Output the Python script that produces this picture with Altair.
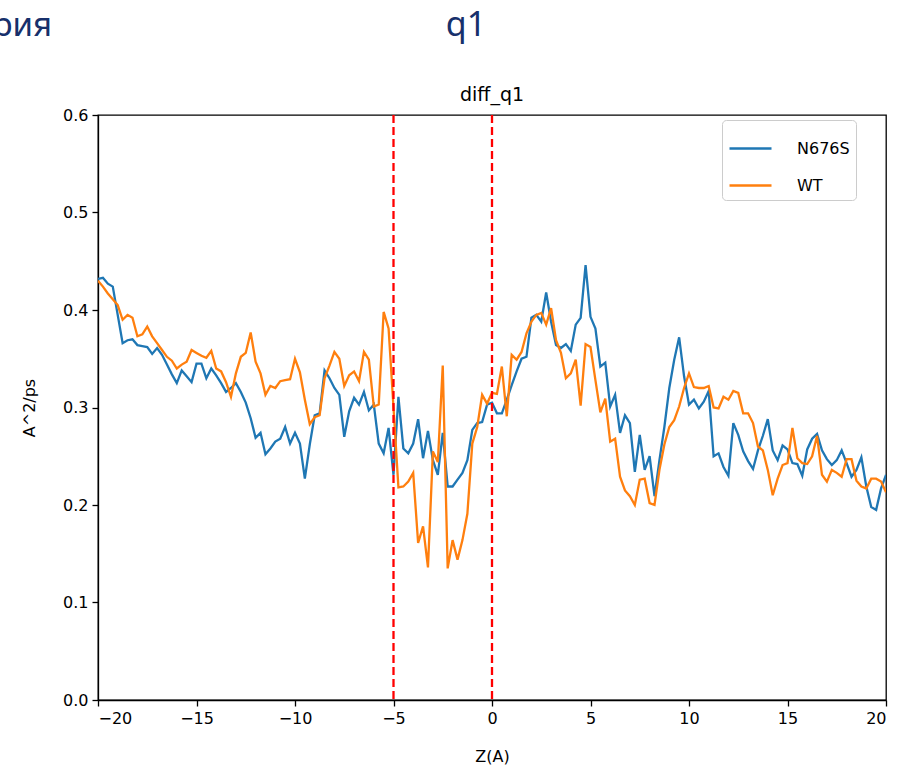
import altair as alt
import pandas as pd

# Diffusion profile along the membrane normal, sampled every 0.25 A from -20 A
z_start = -20.0
z_step = 0.25

n676s = [
    0.432, 0.433, 0.427, 0.424, 0.395, 0.366, 0.369, 0.370, 0.364, 0.363,
    0.362, 0.355, 0.361, 0.354, 0.344, 0.334, 0.325, 0.338, 0.332, 0.326,
    0.345, 0.345, 0.330, 0.340, 0.333, 0.325, 0.316, 0.320, 0.325, 0.316,
    0.305, 0.289, 0.269, 0.274, 0.252, 0.258, 0.265, 0.268, 0.280, 0.263,
    0.274, 0.263, 0.227, 0.262, 0.292, 0.294, 0.338, 0.330, 0.320, 0.313,
    0.270, 0.296, 0.310, 0.303, 0.316, 0.297, 0.303, 0.263, 0.253, 0.279,
    0.231, 0.311, 0.258, 0.253, 0.263, 0.288, 0.248, 0.276, 0.246, 0.231,
    0.274, 0.219, 0.219, 0.226, 0.233, 0.246, 0.277, 0.284, 0.285, 0.303,
    0.305, 0.294, 0.294, 0.308, 0.323, 0.337, 0.350, 0.352, 0.392, 0.395,
    0.388, 0.418, 0.388, 0.364, 0.361, 0.365, 0.358, 0.385, 0.392, 0.446,
    0.393, 0.381, 0.342, 0.346, 0.301, 0.313, 0.274, 0.292, 0.284, 0.234,
    0.272, 0.236, 0.250, 0.209, 0.246, 0.280, 0.320, 0.349, 0.372, 0.332,
    0.303, 0.308, 0.299, 0.306, 0.317, 0.250, 0.253, 0.239, 0.230, 0.284,
    0.272, 0.255, 0.245, 0.237, 0.256, 0.271, 0.288, 0.256, 0.246, 0.261,
    0.257, 0.243, 0.242, 0.230, 0.257, 0.268, 0.273, 0.256, 0.247, 0.241,
    0.246, 0.256, 0.243, 0.229, 0.236, 0.249, 0.219, 0.198, 0.195, 0.217,
    0.231,
]

wt = [
    0.430, 0.424, 0.417, 0.411, 0.405, 0.390, 0.395, 0.392, 0.373, 0.375,
    0.383, 0.373, 0.366, 0.359, 0.352, 0.348, 0.340, 0.344, 0.347, 0.359,
    0.356, 0.353, 0.351, 0.358, 0.340, 0.337, 0.326, 0.311, 0.335, 0.352,
    0.356, 0.377, 0.347, 0.335, 0.313, 0.322, 0.320, 0.327, 0.328, 0.329,
    0.350, 0.336, 0.308, 0.283, 0.290, 0.292, 0.330, 0.343, 0.357, 0.350,
    0.322, 0.333, 0.337, 0.327, 0.357, 0.349, 0.301, 0.303, 0.398, 0.381,
    0.300, 0.218, 0.219, 0.224, 0.233, 0.161, 0.178, 0.136, 0.255, 0.244,
    0.343, 0.135, 0.164, 0.144, 0.164, 0.191, 0.263, 0.280, 0.313, 0.304,
    0.315, 0.314, 0.342, 0.291, 0.354, 0.349, 0.357, 0.376, 0.388, 0.395,
    0.397, 0.385, 0.402, 0.369, 0.356, 0.330, 0.335, 0.349, 0.302, 0.365,
    0.362, 0.328, 0.295, 0.309, 0.265, 0.268, 0.229, 0.215, 0.209, 0.200,
    0.226, 0.227, 0.202, 0.200, 0.236, 0.262, 0.280, 0.287, 0.301, 0.320,
    0.335, 0.321, 0.320, 0.320, 0.322, 0.300, 0.299, 0.311, 0.308, 0.317,
    0.315, 0.294, 0.294, 0.284, 0.260, 0.256, 0.236, 0.210, 0.227, 0.241,
    0.243, 0.279, 0.248, 0.243, 0.242, 0.250, 0.271, 0.231, 0.224, 0.236,
    0.233, 0.229, 0.247, 0.247, 0.225, 0.219, 0.217, 0.227, 0.227, 0.224,
    0.213,
]

series_names = ["N676S", "WT"]
series_colors = ["#1f77b4", "#ff7f0e"]
boundary_z = [-5, 0]
x_ticks = [-20, -15, -10, -5, 0, 5, 10, 15, 20]
y_ticks = [0.0, 0.1, 0.2, 0.3, 0.4, 0.5, 0.6]
plot_title = "diff_q1"
slide_texts = ["рия", "q1"]

rows = []
for name, values in zip(series_names, [n676s, wt]):
    for i, v in enumerate(values):
        rows.append({"z": z_start + z_step * i, "value": v, "series": name})
profile = pd.DataFrame(rows)

font = "DejaVu Sans"

x_enc = alt.X(
    "z:Q",
    scale=alt.Scale(domain=[-20, 20], nice=False, zero=False),
    axis=alt.Axis(
        values=x_ticks,
        title="Z(A)",
        labelExpr="replace(datum.label, '-', '\u2212')",
        titlePadding=22,
    ),
)
y_enc = alt.Y(
    "value:Q",
    scale=alt.Scale(domain=[0, 0.6], nice=False),
    axis=alt.Axis(values=y_ticks, format=".1f", title="A^2/ps", titlePadding=25),
)

lines = alt.Chart(profile).mark_line(strokeWidth=2.3, clip=True).encode(
    x=x_enc,
    y=y_enc,
    color=alt.Color(
        "series:N",
        scale=alt.Scale(domain=series_names, range=series_colors),
        legend=alt.Legend(
            title=None,
            orient="none",
            legendX=624,
            legendY=5,
            padding=6,
            strokeColor="#cccccc",
            fillColor="white",
            cornerRadius=4,
            symbolType="stroke",
            symbolSize=1764,
            symbolStrokeWidth=2.5,
            labelFont=font,
            labelFontSize=16,
            labelOffset=24,
            rowPadding=6,
        ),
    ),
)

boundaries = alt.Chart(pd.DataFrame({"z": boundary_z})).mark_rule(
    color="#ff0000", strokeDash=[8, 4], strokeWidth=2.3
).encode(x="z:Q")

# Axes title drawn as a text mark so it sits just above the frame
title_mark = alt.Chart(pd.DataFrame({"label": [plot_title]})).mark_text(
    font=font, fontSize=19, color="black", align="center", baseline="alphabetic"
).encode(text="label:N", x=alt.value(394), y=alt.value(-14))

# Slide heading fragments above the axes
slide_left = alt.Chart(pd.DataFrame({"label": [slide_texts[0]]})).mark_text(
    font="Noto Sans", fontSize=33, color="#17306b", align="right", baseline="alphabetic"
).encode(text="label:N", x=alt.value(-46), y=alt.value(-79))
slide_center = alt.Chart(pd.DataFrame({"label": [slide_texts[1]]})).mark_text(
    font="Noto Sans", fontSize=34, color="#17306b", align="center", baseline="alphabetic"
).encode(text="label:N", x=alt.value(368), y=alt.value(-79))

chart = (
    alt.layer(lines, boundaries, title_mark, slide_left, slide_center)
    .properties(
        width=788,
        height=585,
        autosize=alt.AutoSizeParams(type="none"),
        padding={"left": 98, "top": 115, "right": 14, "bottom": 68},
        background="white",
    )
    .configure_view(stroke="black", strokeWidth=1.3)
    .configure_axis(
        grid=False,
        domainColor="black",
        domainWidth=1.3,
        tickColor="black",
        tickWidth=1.3,
        tickSize=6,
        labelPadding=4,
        labelColor="black",
        labelFont=font,
        labelFontSize=16,
        titleFont=font,
        titleFontSize=16,
        titleFontWeight="normal",
        titleColor="black",
    )
)

chart.save("out.html", embed_options={"renderer": "svg", "actions": False})
